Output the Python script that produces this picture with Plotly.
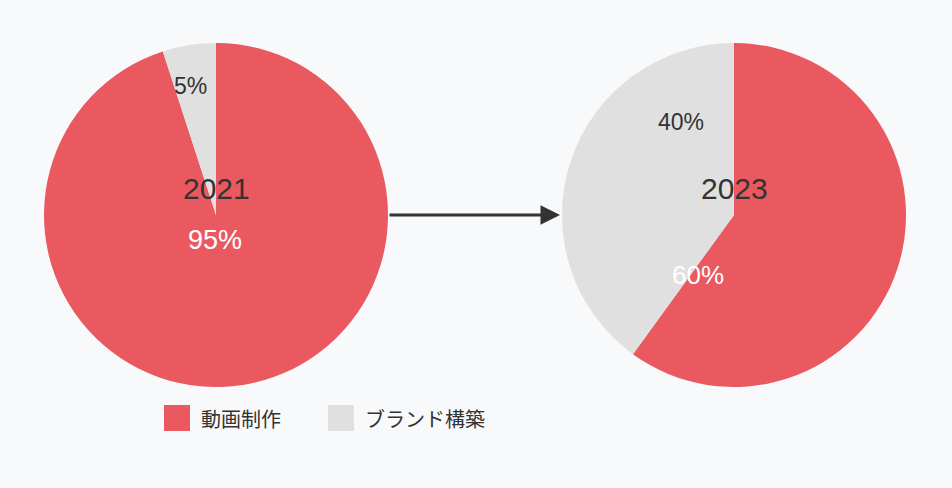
import plotly.graph_objects as go

categories = ["動画制作", "ブランド構築"]
years = ["2021", "2023"]
values_2021 = [95, 5]
values_2023 = [60, 40]
colors = ["#EB5960", "#E0E0E0"]

W, H = 952, 488
FONT = "Liberation Sans, Arial, Noto Sans CJK JP, sans-serif"
JP = "Noto Sans CJK JP, sans-serif"
R = 172
CY = 215
# (values, year, centre x, label offsets in px, label sizes)
pies = [(values_2021, years[0], 216, [(-1, 25), (-26, -129)], [27, 23]),
        (values_2023, years[1], 734, [(-36, 60), (-53, -93)], [26, 23])]
label_colors = ["#FFFFFF", "#333333"]
legend_x = [164, 328]
legend_y = 418
sq = 26

def dom(cx, cy, r):
    return dict(x=[(cx - r) / W, (cx + r) / W], y=[1 - (cy + r) / H, 1 - (cy - r) / H])

def px(x, y):
    return x / W, 1 - y / H

fig = go.Figure()
for vals, yr, cx, offs, sizes in pies:
    fig.add_trace(go.Pie(
        labels=categories, values=vals, sort=False, direction="clockwise", rotation=0,
        marker=dict(colors=colors, line=dict(width=0)),
        textinfo="none", domain=dom(cx, CY, R), showlegend=False,
        hoverinfo="label+percent",
    ))
    xx, yy = px(cx, CY - 27)
    fig.add_annotation(x=xx, y=yy, xref="paper", yref="paper", text=yr, showarrow=False,
                       xanchor="center", yanchor="middle",
                       font=dict(size=30, color="#333333", family=FONT))
    total = sum(vals)
    for v, (dx, dy), c, s in zip(vals, offs, label_colors, sizes):
        xx, yy = px(cx + dx, CY + dy)
        fig.add_annotation(x=xx, y=yy, xref="paper", yref="paper",
                           text=f"{round(100 * v / total)}%", showarrow=False,
                           xanchor="center", yanchor="middle",
                           font=dict(size=s, color=c, family=FONT))

# legend
for cat, col, lx in zip(categories, colors, legend_x):
    x0, y1 = px(lx, legend_y - sq / 2)
    x1, y0 = px(lx + sq, legend_y + sq / 2)
    fig.add_shape(type="rect", xref="paper", yref="paper", x0=x0, x1=x1, y0=y0, y1=y1,
                  fillcolor=col, line=dict(width=0))
    tx, ty = px(lx + sq + 9, legend_y)
    fig.add_annotation(x=tx, y=ty, xref="paper", yref="paper", text=cat, showarrow=False,
                       xanchor="left", yanchor="middle",
                       font=dict(size=20, color="#333333", family=JP))

fig.add_annotation(x=560 / W, y=1 - CY / H, xref="paper", yref="paper", text="",
                   showarrow=True, ax=-172, ay=0, axref="pixel", ayref="pixel",
                   arrowhead=2, arrowsize=1.3, arrowwidth=3, arrowcolor="#333333")

fig.update_layout(
    width=W, height=H, margin=dict(l=0, r=0, t=0, b=0),
    paper_bgcolor="#F8F9FB", plot_bgcolor="#F8F9FB",
    font=dict(family=FONT, color="#333333"),
    showlegend=False,
)
fig.write_html("out.html", config={"displayModeBar": False},
               post_script="document.body.style.margin='0';")
